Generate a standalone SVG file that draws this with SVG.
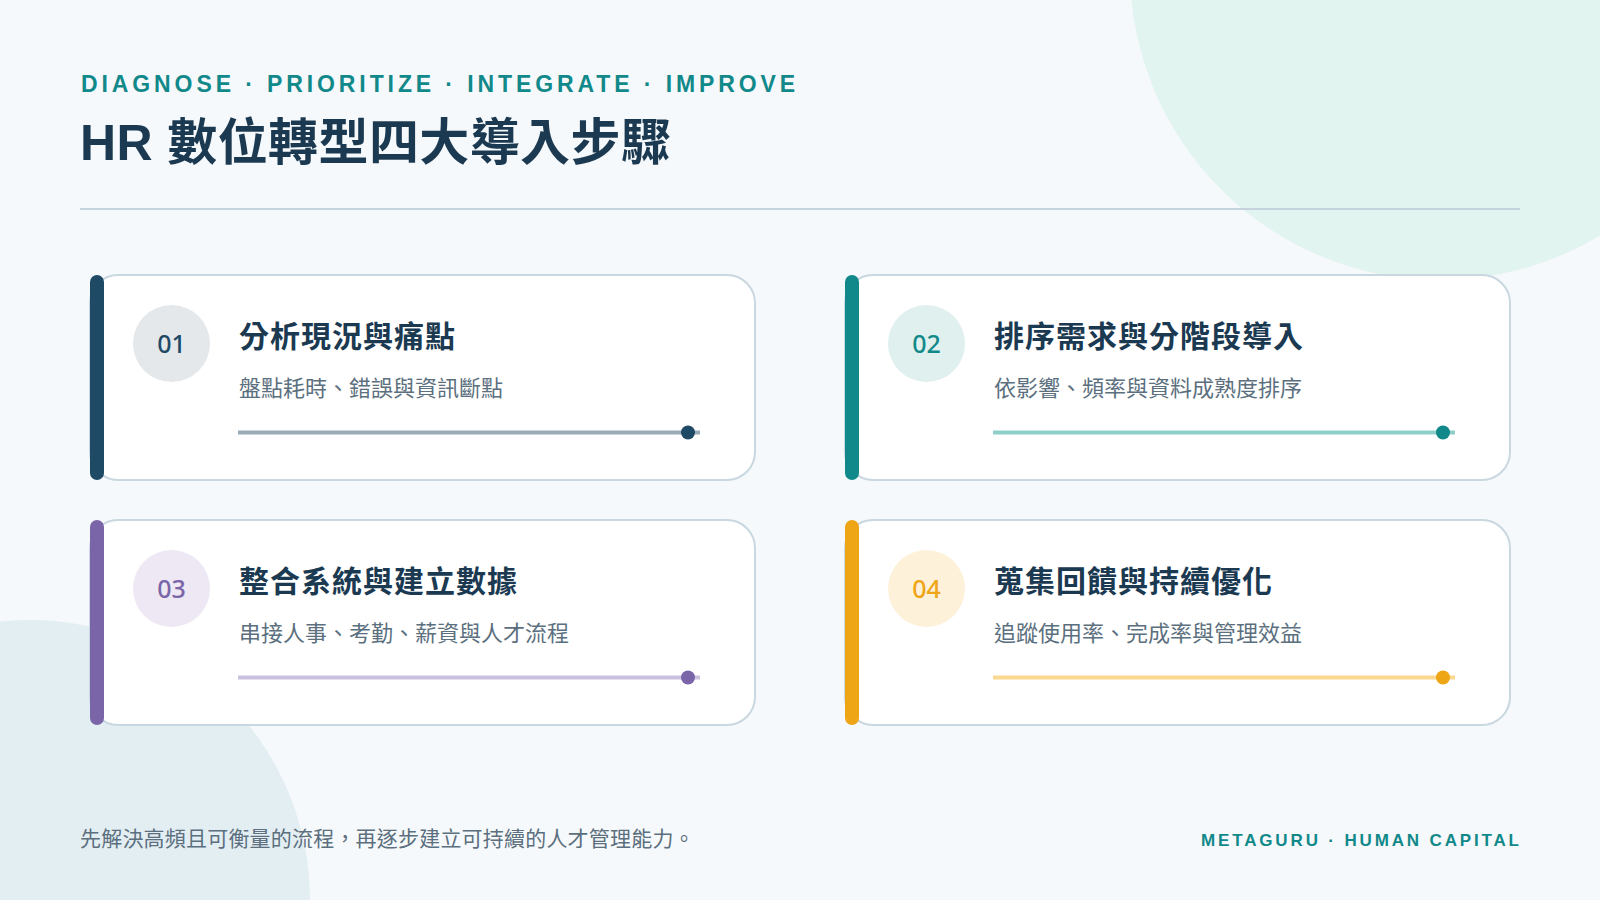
<svg xmlns="http://www.w3.org/2000/svg" width="1600" height="900" viewBox="0 0 1600 900">
  <style>
    text { font-family: "Noto Sans CJK TC", "Noto Sans", sans-serif; }
    .eyebrow { font-family: "Liberation Sans", "Noto Sans CJK TC", sans-serif; font-size: 23px; font-weight: 700; fill: #11898a; letter-spacing: 3.9px; }
    .title { font-family: "Liberation Sans", "Noto Sans CJK TC", sans-serif; font-size: 50px; font-weight: 700; fill: #1b3a52; letter-spacing: 0.4px; }
    .card { fill: #ffffff; stroke: #c9d8e0; stroke-width: 2; }
    .num { font-family: "Noto Sans", "Noto Sans CJK TC", sans-serif; font-size: 25px; font-weight: 500; text-anchor: middle; }
    .ctitle { font-size: 30px; font-weight: 700; fill: #1b3a52; letter-spacing: 1px; }
    .csub { font-size: 22px; font-weight: 400; fill: #5b6f7e; }
    .track { stroke-width: 4; }
    .foot { font-size: 21px; fill: #5b6f7e; letter-spacing: 0.2px; }
    .brand { font-family: "Liberation Sans", "Noto Sans CJK TC", sans-serif; font-size: 17px; font-weight: 700; fill: #11898a; letter-spacing: 2.85px; }
  </style>
  <rect width="1600" height="900" fill="#f6f9fb"/>
  <circle cx="1440" cy="-30" r="310" fill="#e2f4f0"/>
  <circle cx="30" cy="900" r="280" fill="#e3eef3"/>

  <g id="header">
    <text class="eyebrow" x="81" y="92">DIAGNOSE · PRIORITIZE · INTEGRATE · IMPROVE</text>
    <text class="title" x="80" y="160">HR 數位轉型四大導入步驟</text>
    <line x1="80" y1="209" x2="1520" y2="209" stroke="#c5d3dc" stroke-width="2"/>
  </g>

  <g id="step1" transform="translate(90,275)">
    <rect class="card" x="0" y="0" width="665" height="205" rx="28"/>
    <rect x="0" y="0" width="14" height="205" rx="7" fill="#1f4a66"/>
    <circle cx="81.5" cy="68.5" r="38.5" fill="#e4e8eb"/>
    <text class="num" x="81.5" y="78" fill="#1f4a66">01</text>
    <text class="ctitle" x="149" y="72">分析現況與痛點</text>
    <text class="csub" x="149" y="121">盤點耗時、錯誤與資訊斷點</text>
    <line class="track" x1="148" y1="157.5" x2="610" y2="157.5" stroke="#9aabb8"/>
    <circle cx="598" cy="157.5" r="7" fill="#1f4a66"/>
  </g>

  <g id="step2" transform="translate(845,275)">
    <rect class="card" x="0" y="0" width="665" height="205" rx="28"/>
    <rect x="0" y="0" width="14" height="205" rx="7" fill="#11898a"/>
    <circle cx="81.5" cy="68.5" r="38.5" fill="#dff0ee"/>
    <text class="num" x="81.5" y="78" fill="#11898a">02</text>
    <text class="ctitle" x="149" y="72">排序需求與分階段導入</text>
    <text class="csub" x="149" y="121">依影響、頻率與資料成熟度排序</text>
    <line class="track" x1="148" y1="157.5" x2="610" y2="157.5" stroke="#8fcfca"/>
    <circle cx="598" cy="157.5" r="7" fill="#11898a"/>
  </g>

  <g id="step3" transform="translate(90,520)">
    <rect class="card" x="0" y="0" width="665" height="205" rx="28"/>
    <rect x="0" y="0" width="14" height="205" rx="7" fill="#7a65a8"/>
    <circle cx="81.5" cy="68.5" r="38.5" fill="#ede8f3"/>
    <text class="num" x="81.5" y="78" fill="#7a65a8">03</text>
    <text class="ctitle" x="149" y="72">整合系統與建立數據</text>
    <text class="csub" x="149" y="121">串接人事、考勤、薪資與人才流程</text>
    <line class="track" x1="148" y1="157.5" x2="610" y2="157.5" stroke="#cbc1df"/>
    <circle cx="598" cy="157.5" r="7" fill="#7a65a8"/>
  </g>

  <g id="step4" transform="translate(845,520)">
    <rect class="card" x="0" y="0" width="665" height="205" rx="28"/>
    <rect x="0" y="0" width="14" height="205" rx="7" fill="#eea516"/>
    <circle cx="81.5" cy="68.5" r="38.5" fill="#fdf1da"/>
    <text class="num" x="81.5" y="78" fill="#eea516">04</text>
    <text class="ctitle" x="149" y="72">蒐集回饋與持續優化</text>
    <text class="csub" x="149" y="121">追蹤使用率、完成率與管理效益</text>
    <line class="track" x1="148" y1="157.5" x2="610" y2="157.5" stroke="#fbd88f"/>
    <circle cx="598" cy="157.5" r="7" fill="#eea516"/>
  </g>

  <g id="connectors"></g>

  <g id="footer">
    <text class="foot" x="80" y="846">先解決高頻且可衡量的流程，再逐步建立可持續的人才管理能力。</text>
    <text class="brand" x="1201" y="846">METAGURU · HUMAN CAPITAL</text>
  </g>
</svg>
